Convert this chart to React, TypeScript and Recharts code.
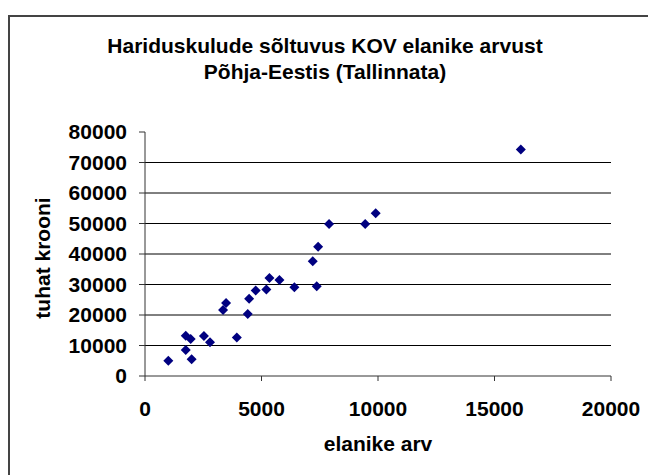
import { ScatterChart, Scatter, XAxis, YAxis, CartesianGrid } from 'recharts';

// elanike arv (population) and hariduskulud (tuhat krooni) per KOV
const population = [1000, 1750, 1960, 1750, 2000, 2530, 2790, 3350, 3480, 3940, 4410, 4470, 4750, 5210, 5340, 5770, 6410, 7200, 7430, 7370, 7900, 9450, 9900, 16130];
const costs = [5000, 13200, 12100, 8500, 5500, 13100, 11100, 21600, 23900, 12600, 20300, 25300, 28000, 28400, 32100, 31500, 29100, 37600, 42400, 29400, 49800, 49800, 53400, 74300];

const xTicks = [0, 5000, 10000, 15000, 20000];
const yTicks = [0, 10000, 20000, 30000, 40000, 50000, 60000, 70000, 80000];
const gridValues = [10000, 20000, 30000, 40000, 50000, 60000, 70000];

const titleLines = ['Hariduskulude sõltuvus KOV elanike arvust', 'Põhja-Eestis (Tallinnata)'];

const font = '"Liberation Sans", Arial, sans-serif';
const tickStyle = { fill: '#000', fontSize: 21, fontWeight: 'bold', fontFamily: font };

const data = population.map((p, i) => ({ x: p, y: costs[i] }));

function Diamond(props: any) {
  const { cx, cy } = props;
  if (cx == null || cy == null) return null;
  const r = 5;
  return <polygon points={`${cx},${cy - r} ${cx + r},${cy} ${cx},${cy + r} ${cx - r},${cy}`} fill="#000080" />;
}

export default function App() {
  return (
    <div style={{ position: 'fixed', left: 0, top: 0, width: 648, height: 475, overflow: 'hidden', background: '#fff' }}>
      <div style={{ position: 'absolute', left: 8, top: 15, width: 660, height: 480, borderTop: '2px solid #444', borderLeft: '2px solid #444' }} />
      <div style={{ position: 'absolute', left: 8, top: 33, width: 634, textAlign: 'center', fontFamily: font, fontWeight: 'bold', fontSize: 21, lineHeight: '26px', color: '#000', whiteSpace: 'nowrap' }}>
        {titleLines.map((t) => (
          <div key={t}>{t}</div>
        ))}
      </div>
      <div style={{ position: 'absolute', left: 8, top: 8 }}>
        <ScatterChart width={640} height={467} margin={{ top: 124, right: 37, left: 0, bottom: 19 }}>
          <CartesianGrid vertical={false} horizontalValues={gridValues} stroke="#000" strokeWidth={1} />
          <XAxis
            type="number"
            dataKey="x"
            domain={[0, 20000]}
            ticks={xTicks}
            interval={0}
            height={80}
            tick={tickStyle}
            tickSize={5}
            tickMargin={20}
            stroke="#333"
            label={{ value: 'elanike arv', position: 'insideBottom', offset: 5, style: tickStyle }}
          />
          <YAxis
            type="number"
            dataKey="y"
            domain={[0, 80000]}
            ticks={yTicks}
            interval={0}
            width={137}
            tick={tickStyle}
            tickSize={6}
            tickMargin={12}
            stroke="#333"
            label={{ value: 'tuhat krooni', angle: -90, position: 'center', dx: -34, dy: 4, style: tickStyle }}
          />
          <Scatter data={data} shape={Diamond} isAnimationActive={false} />
        </ScatterChart>
      </div>
    </div>
  );
}
